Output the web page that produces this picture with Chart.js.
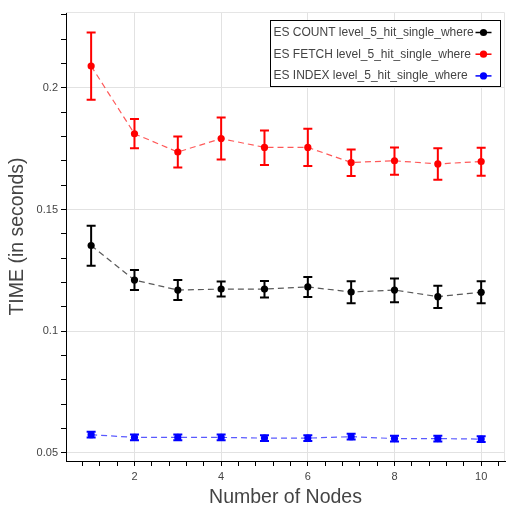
<!DOCTYPE html>
<html lang="en">
<head>
    <meta charset="UTF-8">
    <title>ES level_5_hit_single_where</title>
    <script src="https://cdn.jsdelivr.net/npm/chart.js"></script>
    <style>
        body {
            margin: 0;
            background-color: white;
        }

        .chart-container {
            width: 506px;
            height: 509px;
        }
    </style>
</head>
<body>

    <div class="chart-container">
        <canvas id="timeChart" width="506" height="509"></canvas>
    </div>

    <script>
        // Values
        const nodes = [1, 2, 3, 4, 5, 6, 7, 8, 9, 10];

        const countMean = [0.1352, 0.1210, 0.1169, 0.1173, 0.1173, 0.1182, 0.1161, 0.1169, 0.1142, 0.1160];
        const countLow  = [0.1269, 0.1169, 0.1128, 0.1143, 0.1138, 0.1141, 0.1115, 0.1119, 0.1095, 0.1115];
        const countHigh = [0.1433, 0.1251, 0.1210, 0.1204, 0.1206, 0.1223, 0.1205, 0.1217, 0.1187, 0.1205];

        const fetchMean = [0.2089, 0.1811, 0.1736, 0.1791, 0.1755, 0.1755, 0.1693, 0.1700, 0.1687, 0.1697];
        const fetchLow  = [0.1951, 0.1751, 0.1672, 0.1705, 0.1683, 0.1679, 0.1637, 0.1643, 0.1622, 0.1638];
        const fetchHigh = [0.2227, 0.1872, 0.1800, 0.1878, 0.1824, 0.1832, 0.1746, 0.1755, 0.1751, 0.1753];

        const indexMean = [0.0575, 0.0564, 0.0564, 0.0564, 0.0561, 0.0561, 0.0567, 0.0559, 0.0559, 0.0557];
        const indexLow  = [0.0563, 0.0552, 0.0552, 0.0552, 0.0549, 0.0549, 0.0555, 0.0547, 0.0547, 0.0545];
        const indexHigh = [0.0587, 0.0576, 0.0576, 0.0576, 0.0573, 0.0573, 0.0579, 0.0571, 0.0571, 0.0569];

        const seriesNames = [
            'ES COUNT level_5_hit_single_where',
            'ES FETCH level_5_hit_single_where',
            'ES INDEX level_5_hit_single_where'
        ];

        const xTickValues = [2, 4, 6, 8, 10];
        const xTickLabels = ['2', '4', '6', '8', '10'];
        const yTickValues = [0.05, 0.1, 0.15, 0.2];
        const yTickLabels = ['0.05', '0.1', '0.15', '0.2'];

        const X_MIN = 0.42, X_MAX = 10.55;
        const Y_MIN = 0.0467, Y_MAX = 0.2311;

        const FONT = '"Liberation Sans", Arial, sans-serif';
        const TEXT_COLOR = '#444444';

        function near(a, b) {
            return Math.abs(a - b) < 1e-9;
        }

        function majorIndex(list, v) {
            return list.findIndex(t => near(t, v));
        }

        // minor ticks every 0.4 on x, every 0.01 on y (bokeh style)
        function tickList(from, to, step) {
            const out = [];
            for (let i = 0; from + i * step <= to + 1e-9; i++) {
                out.push(Math.round((from + i * step) * 1e6) / 1e6);
            }
            return out;
        }
        const xAllTicks = tickList(0.8, 10.4, 0.4);
        const yAllTicks = tickList(0.05, 0.23, 0.01);

        function makeSeries(name, mean, low, high, color, lineColor) {
            return {
                label: name,
                data: nodes.map((n, i) => ({ x: n, y: mean[i] })),
                errLow: low,
                errHigh: high,
                borderColor: lineColor,
                borderWidth: 1.2,
                borderDash: [6, 4],
                backgroundColor: color,
                pointBackgroundColor: color,
                pointBorderColor: color,
                pointBorderWidth: 0,
                pointRadius: 3.6,
                tension: 0,
                fill: false,
                solid: color
            };
        }

        // error bars with caps, drawn from each dataset's low/high arrays
        const errorBars = {
            id: 'errorBars',
            afterDatasetsDraw(chart) {
                const ctx = chart.ctx;
                const xs = chart.scales.x, ys = chart.scales.y;
                ctx.save();
                chart.data.datasets.forEach(ds => {
                    ctx.strokeStyle = ds.solid;
                    ctx.lineWidth = 2;
                    ds.data.forEach((p, i) => {
                        const px = xs.getPixelForValue(p.x);
                        const top = ys.getPixelForValue(ds.errHigh[i]);
                        const bot = ys.getPixelForValue(ds.errLow[i]);
                        ctx.beginPath();
                        ctx.moveTo(px, top);
                        ctx.lineTo(px, bot);
                        ctx.moveTo(px - 4.5, top);
                        ctx.lineTo(px + 4.5, top);
                        ctx.moveTo(px - 4.5, bot);
                        ctx.lineTo(px + 4.5, bot);
                        ctx.stroke();
                    });
                });
                ctx.restore();
            }
        };

        // legend box in the top right corner, glyph to the right of the text
        const cornerLegend = {
            id: 'cornerLegend',
            afterDraw(chart) {
                const ctx = chart.ctx;
                const area = chart.chartArea;
                ctx.save();

                // light frame outline
                ctx.strokeStyle = '#e5e5e5';
                ctx.lineWidth = 1;
                ctx.beginPath();
                ctx.moveTo(area.left, area.top + 0.5);
                ctx.lineTo(area.right - 0.5, area.top + 0.5);
                ctx.lineTo(area.right - 0.5, area.bottom);
                ctx.stroke();

                const right = area.right - 4.5;
                const left = 270.5;
                const top = 20.5;
                const rowH = 21.7;
                ctx.fillStyle = 'white';
                ctx.fillRect(left, top, right - left, 66);
                ctx.strokeStyle = '#000';
                ctx.strokeRect(left, top, right - left, 66);

                ctx.font = '12px ' + FONT;
                ctx.textBaseline = 'middle';
                ctx.textAlign = 'left';
                chart.data.datasets.forEach((ds, i) => {
                    const y = top + 12 + i * rowH;
                    ctx.fillStyle = TEXT_COLOR;
                    ctx.fillText(ds.label, left + 3, y);
                    ctx.strokeStyle = ds.solid;
                    ctx.lineWidth = 1.5;
                    ctx.beginPath();
                    ctx.moveTo(right - 25, y);
                    ctx.lineTo(right - 9, y);
                    ctx.stroke();
                    ctx.fillStyle = ds.solid;
                    ctx.beginPath();
                    ctx.arc(right - 17, y, 3.6, 0, Math.PI * 2);
                    ctx.fill();
                });
                ctx.restore();
            }
        };

        const ctx = document.getElementById('timeChart').getContext('2d');
        const timeChart = new Chart(ctx, {
            type: 'line',
            data: {
                datasets: [
                    makeSeries(seriesNames[0], countMean, countLow, countHigh, '#000000', 'rgba(0, 0, 0, 0.65)'),
                    makeSeries(seriesNames[1], fetchMean, fetchLow, fetchHigh, '#ff0000', 'rgba(255, 0, 0, 0.65)'),
                    makeSeries(seriesNames[2], indexMean, indexLow, indexHigh, '#0000ff', 'rgba(0, 0, 255, 0.65)')
                ]
            },
            options: {
                responsive: false,
                animation: false,
                layout: {
                    autoPadding: false,
                    padding: { left: 0, right: 1, top: 12, bottom: 0 }
                },
                plugins: {
                    legend: { display: false },
                    tooltip: { enabled: false }
                },
                scales: {
                    x: {
                        type: 'linear',
                        min: X_MIN,
                        max: X_MAX,
                        afterBuildTicks: scale => {
                            scale.ticks = xAllTicks.map(v => ({ value: v }));
                        },
                        afterFit: scale => {
                            scale.height = 48;
                        },
                        ticks: {
                            autoSkip: false,
                            maxRotation: 0,
                            padding: 4,
                            color: TEXT_COLOR,
                            font: { family: FONT, size: 11 },
                            callback: value => {
                                const k = majorIndex(xTickValues, value);
                                return k >= 0 ? xTickLabels[k] : '';
                            }
                        },
                        grid: {
                            color: c => majorIndex(xTickValues, c.tick.value) >= 0 ? '#e2e2e2' : 'rgba(0,0,0,0)',
                            tickColor: '#000',
                            tickLength: 5,
                            lineWidth: 1
                        },
                        border: { display: true, color: '#000', width: 1 },
                        title: {
                            display: true,
                            text: 'Number of Nodes',
                            color: TEXT_COLOR,
                            font: { family: FONT, size: 19.5 },
                            padding: { top: 0, bottom: 0 }
                        }
                    },
                    y: {
                        type: 'linear',
                        min: Y_MIN,
                        max: Y_MAX,
                        afterBuildTicks: scale => {
                            scale.ticks = yAllTicks.map(v => ({ value: v }));
                        },
                        afterFit: scale => {
                            scale.width = 66;
                        },
                        ticks: {
                            autoSkip: false,
                            padding: 3,
                            color: TEXT_COLOR,
                            font: { family: FONT, size: 11 },
                            callback: value => {
                                const k = majorIndex(yTickValues, value);
                                return k >= 0 ? yTickLabels[k] : '';
                            }
                        },
                        grid: {
                            color: c => majorIndex(yTickValues, c.tick.value) >= 0 ? '#e2e2e2' : 'rgba(0,0,0,0)',
                            tickColor: '#000',
                            tickLength: 5,
                            lineWidth: 1
                        },
                        border: { display: true, color: '#000', width: 1 },
                        title: {
                            display: true,
                            text: 'TIME (in seconds)',
                            color: TEXT_COLOR,
                            font: { family: FONT, size: 19.5 },
                            padding: { top: 6, bottom: 0 }
                        }
                    }
                }
            },
            plugins: [errorBars, cornerLegend]
        });
    </script>
</body>
</html>
